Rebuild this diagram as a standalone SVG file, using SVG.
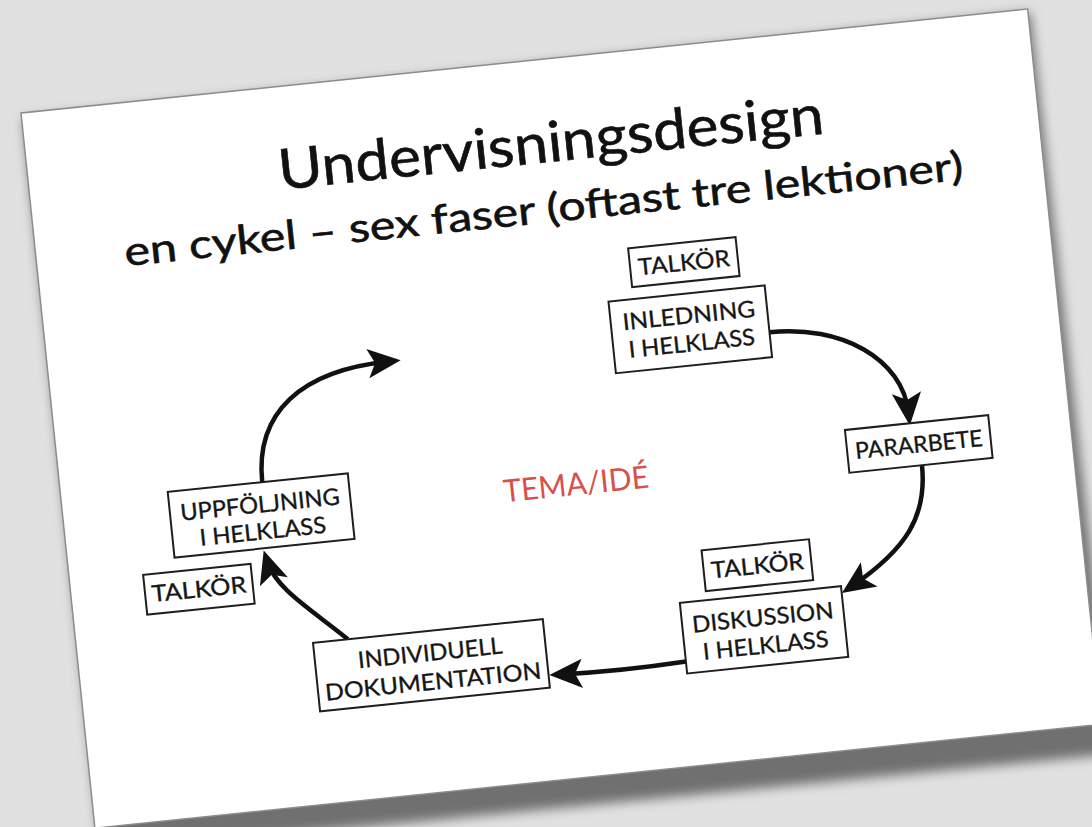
<svg xmlns="http://www.w3.org/2000/svg" width="1092" height="827" viewBox="0 0 1092 827">
<style>
.t{font-family:Lato,"Open Sans","Liberation Sans",sans-serif;fill:#111;stroke:#111;stroke-width:0.6}
.box{fill:#fff;stroke:#1e1e1e;stroke-width:2}
.lbl{font-family:Lato,"Open Sans","Liberation Sans",sans-serif;font-size:23px;fill:#161616;stroke:#161616;stroke-width:0.35;text-anchor:middle}
.arr{fill:none;stroke:#111;stroke-width:4.5;marker-end:url(#ah)}
</style>
<defs>
<marker id="ah" markerUnits="userSpaceOnUse" markerWidth="44" markerHeight="44" viewBox="-22 -16 36 32" refX="0" refY="0" orient="auto">
<path d="M10,0 L-17,-12 L-11,0 L-17,12 Z" fill="#111"/>
</marker>
<filter id="sh" x="-10%" y="-10%" width="120%" height="125%">
<feGaussianBlur stdDeviation="6"/>
</filter>
</defs>
<rect width="1092" height="827" fill="#e1e1e1"/>
<g transform="translate(21,113) rotate(-5.9)">
<path d="M2,6 L1014,4 L1021,750 L4,744 Z" fill="#707070" filter="url(#sh)"/>
<rect x="0" y="0" width="1012" height="719" fill="#fff" stroke="#8c8c8c" stroke-width="1.5"/>
<text class="t" x="524" y="103" font-size="56" text-anchor="middle" textLength="548" lengthAdjust="spacingAndGlyphs">Undervisningsdesign</text>
<text class="t" x="510" y="163" font-size="40" text-anchor="middle" textLength="843" lengthAdjust="spacingAndGlyphs">en cykel – sex faser (oftast tre lektioner)</text>
<text x="514" y="437" font-family="Lato,'Open Sans','Liberation Sans',sans-serif" font-size="31" fill="#d8504a" text-anchor="middle" textLength="146" lengthAdjust="spacingAndGlyphs">TEMA/IDÉ</text>
<g id="connectors">
<path class="arr" d="M722,295 C794,295 852,335 852,390"/>
<path class="arr" d="M860,443 C860,495 835,525 778,556"/>
<path class="arr" d="M605,614 Q540,617 480,614"/>
<path class="arr" d="M271,557 C238,524 205,500 199,472"/>
<path class="arr" d="M202,392 C202,322 252,285 340,285"/>
</g>
<g id="talkor1"><rect class="box" x="590" y="197" width="108" height="39"/><text class="lbl" x="644" y="225" textLength="92" lengthAdjust="spacingAndGlyphs">TALKÖR</text></g>
<g id="inledning"><rect class="box" x="565" y="248" width="157" height="72"/><text class="lbl" x="643.5" y="278" textLength="133" lengthAdjust="spacingAndGlyphs">INLEDNING</text><text class="lbl" x="643.5" y="306" textLength="127" lengthAdjust="spacingAndGlyphs">I HELKLASS</text></g>
<g id="pararbete"><rect class="box" x="787" y="400" width="144" height="43"/><text class="lbl" x="859" y="430" textLength="128" lengthAdjust="spacingAndGlyphs">PARARBETE</text></g>
<g id="talkor2"><rect class="box" x="632" y="505" width="108" height="41"/><text class="lbl" x="686" y="534" textLength="93" lengthAdjust="spacingAndGlyphs">TALKÖR</text></g>
<g id="diskussion"><rect class="box" x="605" y="555" width="162" height="71"/><text class="lbl" x="686" y="586" textLength="142" lengthAdjust="spacingAndGlyphs">DISKUSSION</text><text class="lbl" x="686" y="614" textLength="126" lengthAdjust="spacingAndGlyphs">I HELKLASS</text></g>
<g id="individuell"><rect class="box" x="236" y="557" width="231" height="69"/><text class="lbl" x="351.5" y="587" textLength="145" lengthAdjust="spacingAndGlyphs">INDIVIDUELL</text><text class="lbl" x="351.5" y="616" textLength="217" lengthAdjust="spacingAndGlyphs">DOKUMENTATION</text></g>
<g id="uppfoljning"><rect class="box" x="107" y="392" width="181" height="66"/><text class="lbl" x="197.5" y="422" textLength="160" lengthAdjust="spacingAndGlyphs">UPPFÖLJNING</text><text class="lbl" x="197.5" y="449" textLength="127" lengthAdjust="spacingAndGlyphs">I HELKLASS</text></g>
<g id="talkor3"><rect class="box" x="74" y="472" width="108" height="40"/><text class="lbl" x="128" y="500" textLength="95" lengthAdjust="spacingAndGlyphs">TALKÖR</text></g>
</g>
</svg>
